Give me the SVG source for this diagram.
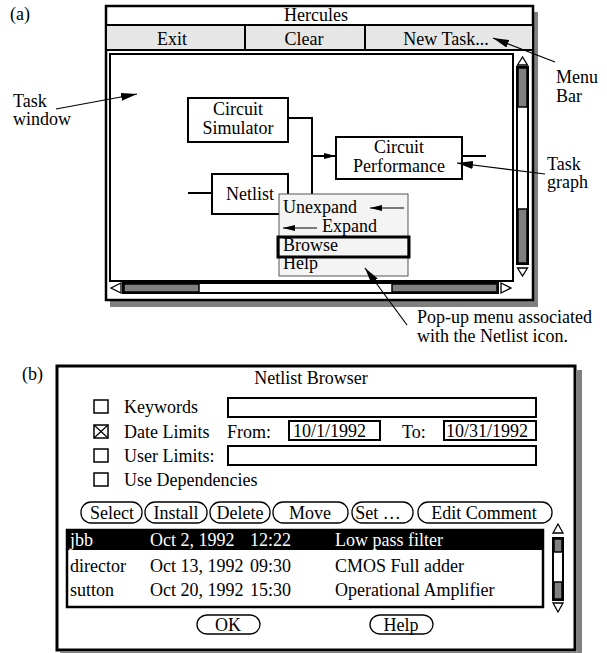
<svg xmlns="http://www.w3.org/2000/svg" width="607" height="653" viewBox="0 0 607 653" font-family="'Liberation Serif', Tinos, 'DejaVu Serif', serif">
  <style>
    text { font-family: 'Liberation Serif', Tinos, 'Times New Roman', 'DejaVu Serif', serif; font-size: 18px; fill: #000; }
    .mid { text-anchor: middle; }
    .inv { fill: #fff; }
    .box { fill: #fff; stroke: #000; stroke-width: 2; }
    .thin { fill: none; stroke: #000; stroke-width: 1.5; }
    .line { fill: none; stroke: #000; stroke-width: 2; }
    .ann { fill: none; stroke: #000; stroke-width: 1.2; }
    .shadow { fill: #808080; }
    .gray { fill: #808080; stroke: #000; stroke-width: 1.5; }
    .bar { fill: #e6e6e6; stroke: #000; stroke-width: 2; }
    .btn { fill: #fff; stroke: #000; stroke-width: 1.3; }
    .tri { fill: #fff; stroke: #000; stroke-width: 1.3; }
  </style>
  <defs>
    <marker id="head" markerUnits="userSpaceOnUse" markerWidth="16" markerHeight="8" refX="16" refY="4" orient="auto">
      <path d="M0,0 L16,4 L0,8 z" fill="#000"/>
    </marker>
    <marker id="headSmall" markerUnits="userSpaceOnUse" markerWidth="12" markerHeight="6" refX="12" refY="3" orient="auto">
      <path d="M0,0 L12,3 L0,6 z" fill="#000"/>
    </marker>
  </defs>

  <rect width="607" height="653" fill="#fff"/>

  <!-- (a) Hercules main window -->
  <g id="window-a">
    <text x="10" y="20">(a)</text>
    <rect class="shadow" x="533" y="12" width="5" height="295"/>
    <rect class="shadow" x="110" y="301" width="428" height="6"/>
    <rect x="106" y="6" width="427" height="294" fill="#fff" stroke="#000" stroke-width="2.5"/>
    <!-- title bar -->
    <line class="line" x1="106" y1="25" x2="533" y2="25"/>
    <text class="mid" x="316" y="21">Hercules</text>
  </g>

  <g id="menu-bar">
    <rect class="bar" x="106" y="25" width="427" height="25"/>
    <line class="line" x1="245" y1="25" x2="245" y2="50"/>
    <line class="line" x1="365" y1="25" x2="365" y2="50"/>
    <text class="mid" x="172" y="45">Exit</text>
    <text class="mid" x="304" y="45">Clear</text>
    <text class="mid" x="446" y="45">New Task...</text>
  </g>

  <g id="task-window">
    <rect class="box" x="110" y="54" width="403" height="227"/>
  </g>

  <!-- vertical scroll bar -->
  <g id="vscroll-a">
    <polygon class="tri" points="522.5,57 517.5,65 527.5,65"/>
    <rect x="517" y="67" width="11" height="197" fill="#fff" stroke="#000" stroke-width="2"/>
    <rect class="gray" x="518" y="68" width="9" height="39"/>
    <rect class="gray" x="518" y="209" width="9" height="54"/>
    <polygon class="tri" points="517.5,268 527.5,268 522.5,276"/>
  </g>

  <!-- horizontal scroll bar -->
  <g id="hscroll-a">
    <polygon class="tri" points="111,288 121,283 121,293"/>
    <rect x="123" y="283" width="375" height="10" fill="#fff" stroke="#000" stroke-width="2"/>
    <rect class="gray" x="124" y="284" width="75" height="8"/>
    <rect class="gray" x="392" y="284" width="105" height="8"/>
    <polygon class="tri" points="511,288 501,283 501,293"/>
  </g>

  <!-- task graph connectors -->
  <g id="connectors">
    <path class="line" d="M288,118 H312 V214"/>
    <path class="line" d="M288,200 H312"/>
    <path class="line" d="M312,156 H336" marker-end="url(#headSmall)"/>
    <path class="line" d="M188,193 H212"/>
    <path class="line" d="M462,156 H486"/>
  </g>

  <g id="node-circuit-simulator">
    <rect class="box" x="188" y="98" width="100" height="44"/>
    <text class="mid" x="238" y="115">Circuit</text>
    <text class="mid" x="238" y="134">Simulator</text>
  </g>

  <g id="node-circuit-performance">
    <rect class="box" x="336" y="137" width="126" height="42"/>
    <text class="mid" x="399" y="153">Circuit</text>
    <text class="mid" x="399" y="172">Performance</text>
  </g>

  <g id="node-netlist">
    <rect class="box" x="212" y="174" width="76" height="40"/>
    <text class="mid" x="250" y="200">Netlist</text>
  </g>

  <!-- pop-up menu -->
  <g id="popup-menu">
    <rect x="279" y="194" width="129" height="82" fill="#f4f4f4" stroke="#555" stroke-width="1"/>
    <text x="283" y="213">Unexpand</text>
    <text x="322" y="232">Expand</text>
    <rect x="278" y="237" width="131" height="20" fill="none" stroke="#000" stroke-width="3"/>
    <text x="283" y="251">Browse</text>
    <text x="283" y="269">Help</text>
    <line class="ann" x1="404" y1="208" x2="370" y2="208" marker-end="url(#headSmall)"/>
    <line class="ann" x1="317" y1="228" x2="283" y2="228" marker-end="url(#headSmall)"/>
  </g>

  <!-- annotations for (a) -->
  <g id="annotations-a">
    <text x="13" y="107">Task</text>
    <text x="13" y="125">window</text>
    <line class="ann" x1="56" y1="109" x2="137" y2="94" marker-end="url(#head)"/>
    <text x="556" y="83">Menu</text>
    <text x="556" y="102">Bar</text>
    <line class="ann" x1="555" y1="62" x2="493" y2="38" marker-end="url(#head)"/>
    <text x="547" y="170">Task</text>
    <text x="547" y="188">graph</text>
    <line class="ann" x1="545" y1="174" x2="457" y2="163" marker-end="url(#head)"/>
    <text x="417" y="323">Pop-up menu associated</text>
    <text x="417" y="342">with the Netlist icon.</text>
    <line class="ann" x1="407" y1="325" x2="365" y2="268" marker-end="url(#head)"/>
  </g>

  <!-- (b) Netlist Browser dialog -->
  <g id="window-b">
    <text x="22" y="380">(b)</text>
    <rect class="shadow" x="577" y="370" width="5" height="283"/>
    <rect class="shadow" x="60" y="652" width="522" height="1"/>
    <rect x="57" y="366" width="518" height="284" fill="#fff" stroke="#000" stroke-width="3"/>
    <text class="mid" x="311" y="384">Netlist Browser</text>
  </g>

  <g id="option-keywords">
    <rect class="thin" x="94" y="400" width="14" height="13"/>
    <text x="124" y="413">Keywords</text>
    <rect class="box" x="228" y="398" width="308" height="19"/>
  </g>

  <g id="option-date-limits">
    <rect class="thin" x="94" y="425" width="14" height="13"/>
    <path class="ann" d="M94,425 L108,438 M108,425 L94,438"/>
    <text x="124" y="438">Date Limits</text>
    <text x="227" y="438">From:</text>
    <rect class="box" x="289" y="421" width="91" height="19"/>
    <text x="293" y="437">10/1/1992</text>
    <text x="402" y="438">To:</text>
    <rect class="box" x="444" y="421" width="92" height="19"/>
    <text x="446" y="437">10/31/1992</text>
  </g>

  <g id="option-user-limits">
    <rect class="thin" x="94" y="449" width="14" height="13"/>
    <text x="124" y="462">User Limits:</text>
    <rect class="box" x="228" y="446" width="308" height="19"/>
  </g>

  <g id="option-dependencies">
    <rect class="thin" x="94" y="473" width="14" height="13"/>
    <text x="124" y="486">Use Dependencies</text>
  </g>

  <g id="button-row">
    <rect class="btn" x="81" y="502" width="61" height="21" rx="10" ry="10"/>
    <text class="mid" x="112" y="519">Select</text>
    <rect class="btn" x="145" y="502" width="62" height="21" rx="10" ry="10"/>
    <text class="mid" x="176" y="519">Install</text>
    <rect class="btn" x="210" y="502" width="60" height="21" rx="10" ry="10"/>
    <text class="mid" x="240" y="519">Delete</text>
    <rect class="btn" x="273" y="502" width="75" height="21" rx="10" ry="10"/>
    <text class="mid" x="310" y="519">Move</text>
    <rect class="btn" x="352" y="502" width="61" height="21" rx="10" ry="10"/>
    <text class="mid" x="378" y="519">Set …</text>
    <rect class="btn" x="418" y="502" width="134" height="21" rx="10" ry="10"/>
    <text class="mid" x="484" y="519">Edit Comment</text>
  </g>

  <g id="netlist-list">
    <rect x="67" y="530" width="476" height="77" fill="#fff" stroke="#000" stroke-width="2.5"/>
    <rect x="67" y="530" width="476" height="20" fill="#000"/>
    <text class="inv" x="70" y="546">jbb</text>
    <text class="inv" x="150" y="546">Oct 2, 1992</text>
    <text class="inv" x="250" y="546">12:22</text>
    <text class="inv" x="335" y="546">Low pass filter</text>
    <text x="70" y="572">director</text>
    <text x="150" y="572">Oct 13, 1992</text>
    <text x="250" y="572">09:30</text>
    <text x="335" y="572">CMOS Full adder</text>
    <text x="70" y="596">sutton</text>
    <text x="150" y="596">Oct 20, 1992</text>
    <text x="250" y="596">15:30</text>
    <text x="335" y="596">Operational Amplifier</text>
  </g>

  <g id="vscroll-b">
    <polygon class="tri" points="558,524 553,533 563,533"/>
    <rect x="553" y="538" width="10" height="62" fill="#fff" stroke="#000" stroke-width="2"/>
    <rect class="gray" x="554" y="539" width="8" height="13"/>
    <rect class="gray" x="554" y="582" width="8" height="17"/>
    <polygon class="tri" points="553,603 563,603 558,612"/>
  </g>

  <g id="button-ok">
    <rect class="btn" x="197" y="615" width="63" height="19" rx="10" ry="9.5"/>
    <text class="mid" x="228" y="631">OK</text>
  </g>

  <g id="button-help">
    <rect class="btn" x="370" y="615" width="63" height="19" rx="10" ry="9.5"/>
    <text class="mid" x="401" y="631">Help</text>
  </g>
</svg>
